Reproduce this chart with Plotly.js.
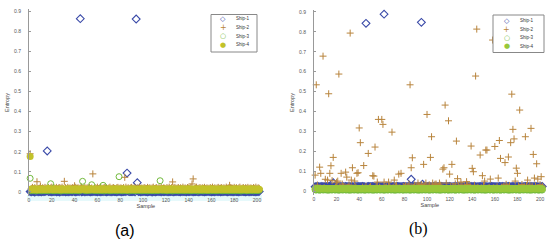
<!DOCTYPE html>
<html>
<head>
<meta charset="utf-8">
<script src="https://cdn.plot.ly/plotly-3.0.1.min.js"></script>
<style>
html, body { margin: 0; padding: 0; background: #fff; }
#chart { width: 550px; height: 243px; }
</style>
</head>
<body>
<div id="chart"></div>
<script>
const shipNames = ['Ship-1', 'Ship-2', 'Ship-3', 'Ship-4'];
const yTicks = [0, 0.1, 0.2, 0.3, 0.4, 0.5, 0.6, 0.7, 0.8, 0.9];
const xTicks = [0, 20, 40, 60, 80, 100, 120, 140, 160, 180, 200];
const panelLabels = ['(a)', '(b)'];

// samples 1..202, baseline entropy of every ship (the dense band at the bottom)
// ---- panel (a)
const ship1A = [.002,.001,.003,.002,.000,.002,.003,.001,.002,.002,.001,.003,.002,.002,.004,.001,.002,.003,.002,.001,
 .002,.002,.003,.001,.002,.002,.000,.003,.002,.002,.003,.001,.002,.002,.001,.003,.002,.002,.004,.002,
 .001,.002,.003,.002,.002,.001,.002,.003,.001,.002,.002,.003,.002,.001,.002,.002,.003,.002,.002,.001,
 .003,.002,.001,.002,.002,.003,.002,.001,.002,.003,.002,.001,.002,.003,.002,.002,.001,.002,.003,.002,
 .001,.002,.002,.003,.002,.001,.003,.002,.002,.002,.002,.003,.001,.002,.002,.002,.003,.001,.002,.002,
 .003,.002,.002,.001,.002,.003,.002,.000,.002,.002,.001,.002,.003,.002,.002,.001,.003,.002,.002,.003,
 .002,.001,.002,.002,.003,.002,.001,.002,.002,.003,.002,.002,.001,.003,.002,.002,.002,.001,.003,.002,
 .002,.003,.002,.001,.002,.002,.003,.002,.001,.002,.003,.002,.002,.001,.002,.002,.003,.002,.002,.001,
 .002,.002,.001,.003,.002,.002,.003,.001,.002,.002,.002,.003,.002,.001,.002,.003,.002,.002,.001,.002,
 .003,.002,.002,.001,.002,.002,.003,.002,.002,.001,.002,.003,.001,.002,.002,.003,.002,.002,.001,.002,
 .002,.003];
const ship2A = [.020,.017,.023,.016,.021,.018,.024,.016,.019,.022,.017,.021,.016,.023,.019,.018,.022,.016,.020,.024,
 .018,.021,.017,.023,.016,.020,.022,.018,.024,.017,.019,.021,.016,.023,.018,.020,.016,.022,.019,.017,
 .023,.018,.021,.016,.020,.024,.017,.019,.022,.016,.021,.018,.023,.017,.020,.019,.016,.022,.018,.024,
 .017,.020,.022,.016,.019,.023,.018,.021,.016,.020,.024,.017,.019,.022,.018,.016,.021,.023,.017,.020,
 .019,.016,.022,.018,.024,.017,.021,.016,.020,.023,.018,.019,.022,.016,.021,.017,.024,.018,.020,.016,
 .022,.019,.017,.023,.018,.021,.016,.020,.024,.017,.019,.022,.016,.021,.018,.023,.017,.020,.019,.016,
 .022,.018,.024,.017,.021,.016,.020,.023,.018,.019,.022,.016,.021,.017,.024,.018,.020,.016,.022,.019,
 .017,.023,.018,.021,.016,.020,.024,.017,.019,.022,.016,.021,.018,.023,.017,.020,.019,.016,.022,.018,
 .024,.017,.021,.016,.020,.023,.018,.019,.022,.016,.021,.017,.024,.018,.020,.016,.022,.019,.017,.023,
 .018,.021,.016,.020,.024,.017,.019,.022,.016,.021,.018,.023,.017,.020,.019,.016,.022,.018,.024,.017,
 .021,.018];
const ship3A = [.008,.006,.010,.007,.009,.005,.008,.011,.007,.009,.006,.008,.010,.007,.009,.008,.006,.010,.008,.007,
 .009,.006,.008,.010,.007,.008,.009,.005,.008,.010,.007,.009,.006,.008,.011,.007,.008,.009,.006,.010,
 .008,.007,.009,.006,.008,.010,.007,.009,.008,.006,.010,.008,.007,.009,.006,.008,.010,.007,.009,.008,
 .006,.010,.008,.007,.009,.005,.008,.011,.007,.009,.006,.008,.010,.007,.009,.008,.006,.010,.008,.007,
 .009,.006,.008,.010,.007,.008,.009,.005,.008,.010,.007,.009,.006,.008,.011,.007,.008,.009,.006,.010,
 .008,.007,.009,.006,.008,.010,.007,.009,.008,.006,.010,.008,.007,.009,.006,.008,.010,.007,.009,.008,
 .006,.010,.008,.007,.009,.005,.008,.011,.007,.009,.006,.008,.010,.007,.009,.008,.006,.010,.008,.007,
 .009,.006,.008,.010,.007,.008,.009,.005,.008,.010,.007,.009,.006,.008,.011,.007,.008,.009,.006,.010,
 .008,.007,.009,.006,.008,.010,.007,.009,.008,.006,.010,.008,.007,.009,.006,.008,.010,.007,.009,.008,
 .006,.010,.008,.007,.009,.005,.008,.011,.007,.009,.006,.008,.010,.007,.009,.008,.006,.010,.008,.007,
 .009,.008];
const ship4A = [.013,.015,.012,.014,.016,.013,.011,.015,.014,.012,.016,.013,.014,.012,.015,.013,.017,.012,.014,.015,
 .012,.014,.016,.013,.012,.015,.014,.011,.016,.013,.014,.015,.012,.013,.016,.014,.012,.015,.013,.014,
 .016,.012,.013,.015,.014,.012,.016,.013,.015,.014,.011,.015,.013,.014,.016,.012,.014,.015,.013,.012,
 .015,.014,.012,.016,.013,.014,.015,.012,.013,.016,.014,.012,.015,.013,.014,.016,.012,.013,.015,.014,
 .012,.016,.013,.015,.014,.011,.015,.013,.014,.016,.012,.014,.015,.013,.012,.015,.014,.012,.016,.013,
 .014,.015,.012,.013,.016,.014,.012,.015,.013,.014,.016,.012,.013,.015,.014,.012,.016,.013,.015,.014,
 .011,.015,.013,.014,.016,.012,.014,.015,.013,.012,.015,.014,.012,.016,.013,.014,.015,.012,.013,.016,
 .014,.012,.015,.013,.014,.016,.012,.013,.015,.014,.012,.016,.013,.015,.014,.011,.015,.013,.014,.016,
 .012,.014,.015,.013,.012,.015,.014,.012,.016,.013,.014,.015,.012,.013,.016,.014,.012,.015,.013,.014,
 .016,.012,.013,.015,.014,.012,.016,.013,.015,.014,.011,.015,.013,.014,.016,.012,.014,.015,.013,.012,
 .015,.014];
// outliers of panel (a): sample number and entropy
const ship1AOutX = [16, 45, 86, 94, 95];
const ship1AOutY = [0.204, 0.862, 0.094, 0.860, 0.046];
const ship2AOutX = [1, 7, 10, 31, 40, 56, 84, 126, 143, 144, 176];
const ship2AOutY = [0.190, 0.051, 0.030, 0.053, 0.031, 0.090, 0.073, 0.050, 0.040, 0.065, 0.033];
const ship3AOutX = [1, 19, 47, 55, 65, 79, 115];
const ship3AOutY = [0.068, 0.041, 0.053, 0.036, 0.033, 0.076, 0.056];
const ship4AOutX = [1];
const ship4AOutY = [0.176];

// ---- panel (b)
const ship1B = [.022,.022,.023,.022,.021,.022,.023,.022,.022,.022,.022,.023,.022,.022,.023,.021,.022,.023,.022,.022,
 .022,.022,.023,.022,.022,.022,.021,.023,.022,.022,.023,.022,.022,.022,.021,.023,.022,.022,.023,.022,
 .022,.022,.023,.022,.022,.021,.022,.023,.022,.022,.022,.023,.022,.021,.022,.022,.023,.022,.022,.022,
 .023,.022,.021,.022,.022,.023,.022,.022,.022,.023,.022,.021,.022,.023,.022,.022,.022,.022,.023,.022,
 .021,.022,.022,.023,.022,.022,.023,.022,.022,.022,.022,.023,.021,.022,.022,.022,.023,.022,.022,.022,
 .023,.022,.022,.021,.022,.023,.022,.022,.022,.022,.021,.022,.023,.022,.022,.022,.023,.022,.022,.023,
 .022,.021,.022,.022,.023,.022,.022,.022,.022,.023,.022,.022,.021,.023,.022,.022,.022,.022,.023,.022,
 .022,.023,.022,.021,.022,.022,.023,.022,.022,.022,.023,.022,.022,.021,.022,.022,.023,.022,.022,.022,
 .022,.022,.021,.023,.022,.022,.023,.022,.022,.022,.022,.023,.022,.021,.022,.023,.022,.022,.022,.022,
 .023,.022,.022,.021,.022,.022,.023,.022,.022,.022,.022,.023,.022,.022,.022,.023,.022,.022,.021,.022,
 .022,.023];
const ship2B = [.022,.014,.030,.012,.019,.033,.013,.025,.017,.036,.012,.021,.028,.014,.023,.016,.032,.012,.020,.026,
 .014,.029,.018,.012,.035,.022,.013,.027,.016,.020,.031,.012,.024,.018,.014,.033,.021,.013,.026,.017,
 .029,.012,.019,.034,.015,.023,.012,.028,.018,.022,.013,.031,.016,.020,.026,.012,.037,.019,.014,.025,
 .013,.030,.017,.021,.012,.027,.022,.015,.033,.018,.012,.024,.029,.014,.020,.016,.032,.012,.023,.019,
 .027,.013,.021,.035,.016,.013,.025,.019,.030,.012,.022,.017,.028,.014,.033,.020,.012,.026,.018,.023,
 .015,.031,.013,.021,.027,.016,.034,.012,.019,.024,.013,.029,.017,.022,.012,.028,.020,.014,.032,.018,
 .025,.012,.023,.016,.036,.013,.021,.027,.015,.019,.030,.013,.024,.018,.012,.033,.020,.026,.014,.022,
 .017,.029,.012,.025,.019,.013,.031,.016,.022,.028,.013,.020,.035,.015,.018,.026,.012,.023,.017,.032,
 .014,.021,.027,.012,.029,.019,.016,.024,.013,.034,.020,.017,.028,.013,.022,.025,.015,.031,.018,.012,
 .026,.021,.014,.033,.017,.023,.013,.028,.019,.016,.030,.013,.024,.020,.012,.027,.018,.022,.015,.032,
 .019,.025];
const ship3B = [.006,.005,.007,.006,.004,.006,.008,.005,.006,.007,.005,.006,.004,.007,.006,.005,.008,.006,.005,.007,
 .006,.004,.006,.007,.005,.006,.008,.005,.006,.007,.004,.006,.005,.007,.006,.005,.008,.006,.004,.007,
 .006,.005,.007,.006,.004,.006,.008,.005,.006,.007,.005,.006,.004,.007,.006,.005,.008,.006,.005,.007,
 .006,.004,.006,.007,.005,.006,.008,.005,.006,.007,.004,.006,.005,.007,.006,.005,.008,.006,.004,.007,
 .006,.005,.007,.006,.004,.006,.008,.005,.006,.007,.005,.006,.004,.007,.006,.005,.008,.006,.005,.007,
 .006,.004,.006,.007,.005,.006,.008,.005,.006,.007,.004,.006,.005,.007,.006,.005,.008,.006,.004,.007,
 .006,.005,.007,.006,.004,.006,.008,.005,.006,.007,.005,.006,.004,.007,.006,.005,.008,.006,.005,.007,
 .006,.004,.006,.007,.005,.006,.008,.005,.006,.007,.004,.006,.005,.007,.006,.005,.008,.006,.004,.007,
 .006,.005,.007,.006,.004,.006,.008,.005,.006,.007,.005,.006,.004,.007,.006,.005,.008,.006,.005,.007,
 .006,.004,.006,.007,.005,.006,.008,.005,.006,.007,.004,.006,.005,.007,.006,.005,.008,.006,.004,.007,
 .006,.005];
const ship4B = [.012,.011,.013,.012,.011,.012,.013,.011,.012,.013,.011,.012,.011,.013,.012,.011,.013,.012,.011,.013,
 .012,.011,.012,.013,.011,.012,.013,.011,.012,.013,.011,.012,.011,.013,.012,.011,.013,.012,.011,.013,
 .012,.011,.013,.012,.011,.012,.013,.011,.012,.013,.011,.012,.011,.013,.012,.011,.013,.012,.011,.013,
 .012,.011,.012,.013,.011,.012,.013,.011,.012,.013,.011,.012,.011,.013,.012,.011,.013,.012,.011,.013,
 .012,.011,.013,.012,.011,.012,.013,.011,.012,.013,.011,.012,.011,.013,.012,.011,.013,.012,.011,.013,
 .012,.011,.012,.013,.011,.012,.013,.011,.012,.013,.011,.012,.011,.013,.012,.011,.013,.012,.011,.013,
 .012,.011,.013,.012,.011,.012,.013,.011,.012,.013,.011,.012,.011,.013,.012,.011,.013,.012,.011,.013,
 .012,.011,.012,.013,.011,.012,.013,.011,.012,.013,.011,.012,.011,.013,.012,.011,.013,.012,.011,.013,
 .012,.011,.013,.012,.011,.012,.013,.011,.012,.013,.011,.012,.011,.013,.012,.011,.013,.012,.011,.013,
 .012,.011,.012,.013,.011,.012,.013,.011,.012,.013,.011,.012,.011,.013,.012,.011,.013,.012,.011,.013,
 .012,.011];
// outliers of panel (b)
const ship1BOutX = [17, 46, 62, 86, 95, 96];
const ship1BOutY = [0.042, 0.843, 0.889, 0.059, 0.848, 0.034];
const ship2BOutX = [1, 2, 5, 6, 8, 10, 12, 13, 14, 15, 16, 17, 20, 21, 22, 24, 28, 29, 32, 33,
 34, 36, 38, 39, 40, 41, 44, 48, 52, 53, 54, 56, 57, 60, 61, 62, 66, 69, 71, 75,
 77, 85, 86, 87, 92, 97, 99, 100, 103, 104, 105, 108, 111, 114, 115, 116, 117, 119, 120, 122,
 126, 127, 130, 135, 139, 140, 141, 143, 144, 147, 149, 151, 152, 153, 156, 158, 160, 163, 164, 165,
 169, 172, 174, 175, 176, 177, 178, 179, 180, 182, 187, 189, 192, 194, 195, 197, 198, 201];
const ship2BOutY = [0.080, 0.534, 0.120, 0.089, 0.678, 0.059, 0.055, 0.489, 0.089, 0.127, 0.052, 0.169, 0.044, 0.050, 0.588, 0.089, 0.095, 0.070, 0.794, 0.055,
 0.117, 0.050, 0.089, 0.092, 0.317, 0.243, 0.128, 0.189, 0.077, 0.075, 0.221, 0.045, 0.360, 0.360, 0.335, 0.045, 0.045, 0.296, 0.055, 0.085,
 0.089, 0.534, 0.117, 0.167, 0.040, 0.134, 0.040, 0.385, 0.169, 0.273, 0.040, 0.035, 0.040, 0.110, 0.117, 0.432, 0.040, 0.353, 0.085, 0.134,
 0.251, 0.062, 0.045, 0.047, 0.226, 0.114, 0.097, 0.578, 0.814, 0.181, 0.077, 0.050, 0.206, 0.206, 0.060, 0.759, 0.224, 0.065, 0.254, 0.164,
 0.143, 0.171, 0.243, 0.487, 0.310, 0.262, 0.050, 0.115, 0.089, 0.407, 0.273, 0.055, 0.315, 0.184, 0.065, 0.137, 0.060, 0.072];

const colors = ['#3a4aa8', '#b8843c', '#72ba3c', '#c2c22a'];
const ship4ColorB = '#98c83a';

function withOutliers(base, outX, outY) {
  const y = base.slice();
  outX.forEach((s, i) => { y[s - 1] = outY[i]; });
  return y;
}

const samples = ship1A.map((v, i) => i + 1);

const markerFor = [
  c => ({ symbol: 'diamond-open', size: 6, color: c, line: { width: 1.1, color: c } }),
  c => ({ symbol: 'cross-thin-open', size: 5, color: c, line: { width: 1, color: c } }),
  c => ({ symbol: 'circle-open', size: 6, color: c, line: { width: 1, color: c } }),
  c => ({ symbol: 'circle', size: 7, color: c, line: { width: 0 } })
];

const panelA = [
  withOutliers(ship1A, ship1AOutX, ship1AOutY),
  withOutliers(ship2A, ship2AOutX, ship2AOutY),
  withOutliers(ship3A, ship3AOutX, ship3AOutY),
  withOutliers(ship4A, ship4AOutX, ship4AOutY)
];
const panelB = [
  withOutliers(ship1B, ship1BOutX, ship1BOutY),
  withOutliers(ship2B, ship2BOutX, ship2BOutY),
  ship3B.slice(),
  ship4B.slice()
];

const traces = [];
panelA.forEach((y, i) => traces.push({
  x: samples, y: y, xaxis: 'x', yaxis: 'y', type: 'scatter', mode: 'markers',
  name: shipNames[i], marker: markerFor[i](colors[i]), cliponaxis: false, showlegend: false
}));
panelB.forEach((y, i) => {
  const c = i === 3 ? ship4ColorB : colors[i];
  traces.push({
    x: samples, y: y, xaxis: 'x2', yaxis: 'y2', type: 'scatter', mode: 'markers',
    name: shipNames[i], marker: markerFor[i](c), cliponaxis: false, showlegend: false
  });
});

const W = 550, H = 243;
const px = v => v / W;
const py = v => 1 - v / H;

const tickFont = { family: 'Liberation Sans', size: 5, color: '#555' };
function xAxis(domain) {
  return {
    domain: domain, range: [0, 205], tickvals: xTicks, ticktext: xTicks.map(String),
    showline: false, showgrid: false, zeroline: false, ticks: '', tickfont: tickFont,
    ticklabelstandoff: 0,
    title: { text: 'Sample', font: { family: 'Liberation Sans', size: 5.5, color: '#444' }, standoff: 2 }
  };
}
function yAxis(domain, anchor) {
  return {
    domain: domain, range: [-0.02, 0.91], anchor: anchor, tickvals: yTicks, ticktext: yTicks.map(String),
    showline: true, linecolor: '#999', linewidth: 1, showgrid: false, zeroline: false,
    ticks: 'inside', ticklen: 2, tickcolor: '#999', tickfont: tickFont, ticklabelstandoff: 6,
    title: { text: 'Entropy', font: { family: 'Liberation Sans', size: 5.5, color: '#444' }, standoff: 4 }
  };
}

// hand-built legends (one per panel)
const legendBoxes = [
  { x0: 211, x1: 257, y0: 14.5, y1: 52, mx: 223, tx: 234, ys: [19, 27.6, 36.2, 44.8], c4: colors[3] },
  { x0: 493, x1: 544, y0: 15, y1: 52.5, mx: 506.5, tx: 518, ys: [20.5, 29, 37.5, 46], c4: ship4ColorB }
];
const legendGlyphs = ['\u25C7', '+', '\u25CB', '\u25CF'];

const shapes = [
  { type: 'rect', xref: 'paper', yref: 'paper', x0: px(27), x1: px(262), y0: py(201), y1: py(195),
    fillcolor: '#e6f9fb', line: { width: 0 }, layer: 'below' }
];
const annotations = [];
legendBoxes.forEach(b => {
  shapes.push({ type: 'rect', xref: 'paper', yref: 'paper', x0: px(b.x0), x1: px(b.x1), y0: py(b.y1), y1: py(b.y0),
    fillcolor: '#fff', line: { color: '#888', width: 1 } });
  b.ys.forEach((yy, i) => {
    const c = i === 3 ? b.c4 : colors[i];
    annotations.push({ xref: 'paper', yref: 'paper', x: px(b.mx), y: py(yy), text: legendGlyphs[i],
      showarrow: false, xanchor: 'center', yanchor: 'middle',
      font: { family: 'DejaVu Sans', size: i === 1 ? 8 : 7, color: c } });
    annotations.push({ xref: 'paper', yref: 'paper', x: px(b.tx), y: py(yy), text: shipNames[i],
      showarrow: false, xanchor: 'left', yanchor: 'middle',
      font: { family: 'Liberation Sans', size: 4.5, color: '#333' } });
  });
});
annotations.push({ xref: 'paper', yref: 'paper', x: px(125), y: py(230), text: panelLabels[0], showarrow: false,
  xanchor: 'center', yanchor: 'middle', font: { family: 'Liberation Sans', size: 16, color: '#000' } });
annotations.push({ xref: 'paper', yref: 'paper', x: px(418), y: py(229), text: panelLabels[1], showarrow: false,
  xanchor: 'center', yanchor: 'middle', font: { family: 'Liberation Serif', size: 16, color: '#000' } });

const layout = {
  width: W, height: H,
  margin: { l: 0, r: 0, t: 0, b: 0 },
  paper_bgcolor: '#fff', plot_bgcolor: 'rgba(0,0,0,0)',
  showlegend: false,
  xaxis: xAxis([px(29), px(262.7)]),
  yaxis: yAxis([py(196), py(9)], 'x'),
  xaxis2: Object.assign(xAxis([px(314), px(545.7)]), { anchor: 'y2' }),
  yaxis2: yAxis([py(195), py(10)], 'x2'),
  shapes: shapes,
  annotations: annotations
};
layout.xaxis.anchor = 'y';

Plotly.newPlot('chart', traces, layout, { displayModeBar: false, staticPlot: true });
</script>
</body>
</html>
